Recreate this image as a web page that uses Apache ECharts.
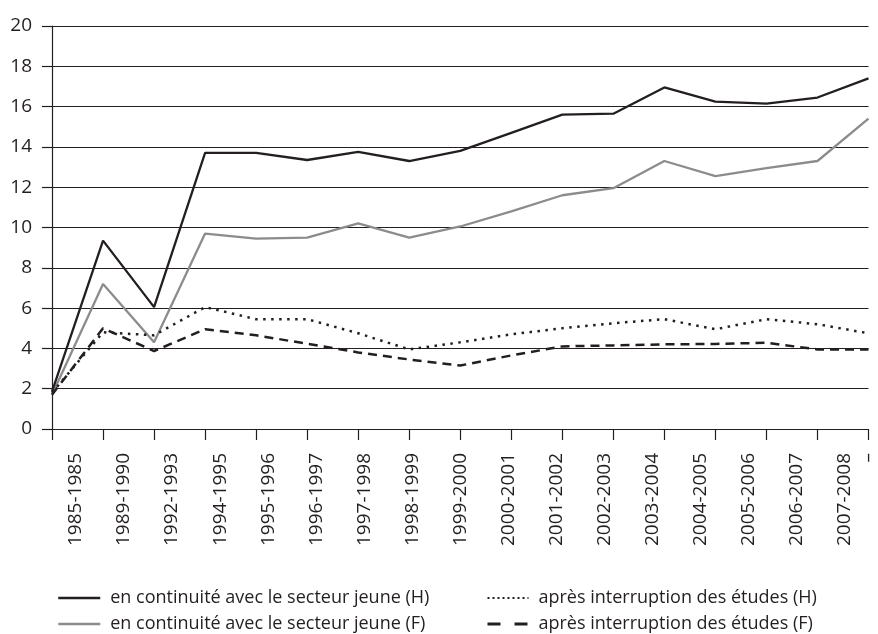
<!DOCTYPE html>
<html>
<head>
<meta charset="utf-8">
<script src="https://cdn.jsdelivr.net/npm/echarts@6/dist/echarts.min.js"></script>
<style>
  html, body { margin: 0; padding: 0; background: #fff; }
  #chart { width: 878px; height: 634px; }
</style>
</head>
<body>
<div id="chart"></div>
<script>
// periods on the x axis (labels sit between the ticks)
var periods = ['1985-1985', '1989-1990', '1992-1993', '1994-1995', '1995-1996', '1996-1997',
    '1997-1998', '1998-1999', '1999-2000', '2000-2001', '2001-2002', '2002-2003',
    '2003-2004', '2004-2005', '2005-2006', '2006-2007', '2007-2008'];
var endLabel = '–';

var yTicks = [0, 2, 4, 6, 8, 10, 12, 14, 16, 18, 20];

var contH = [1.85, 9.35, 6.05, 13.7, 13.7, 13.35, 13.75, 13.3, 13.8, 14.7, 15.6, 15.65, 16.95, 16.25, 16.15, 16.45, 17.4];
var contF = [1.7, 7.2, 4.3, 9.7, 9.45, 9.5, 10.2, 9.5, 10.05, 10.8, 11.6, 11.95, 13.3, 12.55, 12.95, 13.3, 15.4];
var interH = [1.8, 4.8, 4.65, 6.05, 5.45, 5.45, 4.75, 3.95, 4.3, 4.7, 5.0, 5.25, 5.45, 4.95, 5.45, 5.2, 4.75];
var interF = [1.7, 5.0, 3.87, 4.95, 4.65, 4.23, 3.8, 3.45, 3.15, 3.65, 4.1, 4.15, 4.2, 4.22, 4.28, 3.95, 3.95];

var names = [
    'en continuité avec le secteur jeune (H)',
    'en continuité avec le secteur jeune (F)',
    'après interruption des études (H)',
    'après interruption des études (F)'
];

var dark = '#231f20';
var grey = '#8c8c8c';
var font = '"Open Sans", "DejaVu Sans", sans-serif';

var legendBase = {
    orient: 'vertical',
    top: 589,
    padding: 0,
    itemWidth: 42,
    itemHeight: 18,
    itemGap: 8,
    selectedMode: false,
    itemStyle: { opacity: 0 },
    textStyle: { fontSize: 18, color: dark, lineHeight: 18, padding: [0, 0, 0, 5], fontFamily: font }
};

var myChart = echarts.init(document.getElementById('chart'));

myChart.setOption({
    animation: false,
    textStyle: { fontFamily: font },
    grid: { left: 52, right: 7, top: 26, bottom: 205 },
    legend: [
        Object.assign({}, legendBase, {
            left: 57,
            data: [
                { name: names[0], lineStyle: { width: 2.5 } },
                { name: names[1], lineStyle: { width: 2.5 } }
            ]
        }),
        Object.assign({}, legendBase, {
            left: 486,
            itemWidth: 41,
            data: [
                { name: names[2], lineStyle: { type: [2, 3], width: 2 } },
                { name: names[3], lineStyle: { type: [13, 14], width: 3 } }
            ]
        })
    ],
    xAxis: [
        {
            type: 'category',
            data: periods,
            boundaryGap: false,
            axisLine: { lineStyle: { color: dark, width: 1.2 } },
            axisTick: { show: true, length: 11, interval: 0, lineStyle: { color: dark, width: 1.2 } },
            axisLabel: {
                interval: 0,
                rotate: 90,
                margin: 24,
                fontSize: 19,
                color: dark,
                formatter: function (v, i) {
                    return i === periods.length - 1 ? endLabel : '';
                }
            },
            splitLine: { show: false }
        },
        {
            type: 'category',
            data: periods,
            position: 'bottom',
            boundaryGap: true,
            axisLine: { show: false },
            axisTick: { show: false },
            axisLabel: { interval: 0, rotate: 90, margin: 24, fontSize: 19, color: dark },
            splitLine: { show: false }
        }
    ],
    yAxis: {
        type: 'value',
        min: yTicks[0],
        max: yTicks[yTicks.length - 1],
        interval: 2,
        axisLine: { show: true, lineStyle: { color: dark, width: 1.2 } },
        axisTick: { show: true, length: 10, lineStyle: { color: dark, width: 1.2 } },
        axisLabel: { margin: 20, fontSize: 19, color: dark },
        splitLine: { lineStyle: { color: dark, width: 1.2 } }
    },
    series: [
        {
            name: names[1], type: 'line', data: contF, symbol: 'none',
            lineStyle: { color: grey, width: 2.3 }, itemStyle: { color: grey }
        },
        {
            name: names[3], type: 'line', data: interF, symbol: 'none',
            lineStyle: { color: dark, width: 2.5, type: [9, 6] }, itemStyle: { color: dark }
        },
        {
            name: names[2], type: 'line', data: interH, symbol: 'none',
            lineStyle: { color: dark, width: 2.5, type: [2.5, 5.5] }, itemStyle: { color: dark }
        },
        {
            name: names[0], type: 'line', data: contH, symbol: 'none',
            lineStyle: { color: dark, width: 2.3 }, itemStyle: { color: dark }
        }
    ]
});

window.addEventListener('resize', function () {
    myChart.resize();
});
</script>
</body>
</html>
